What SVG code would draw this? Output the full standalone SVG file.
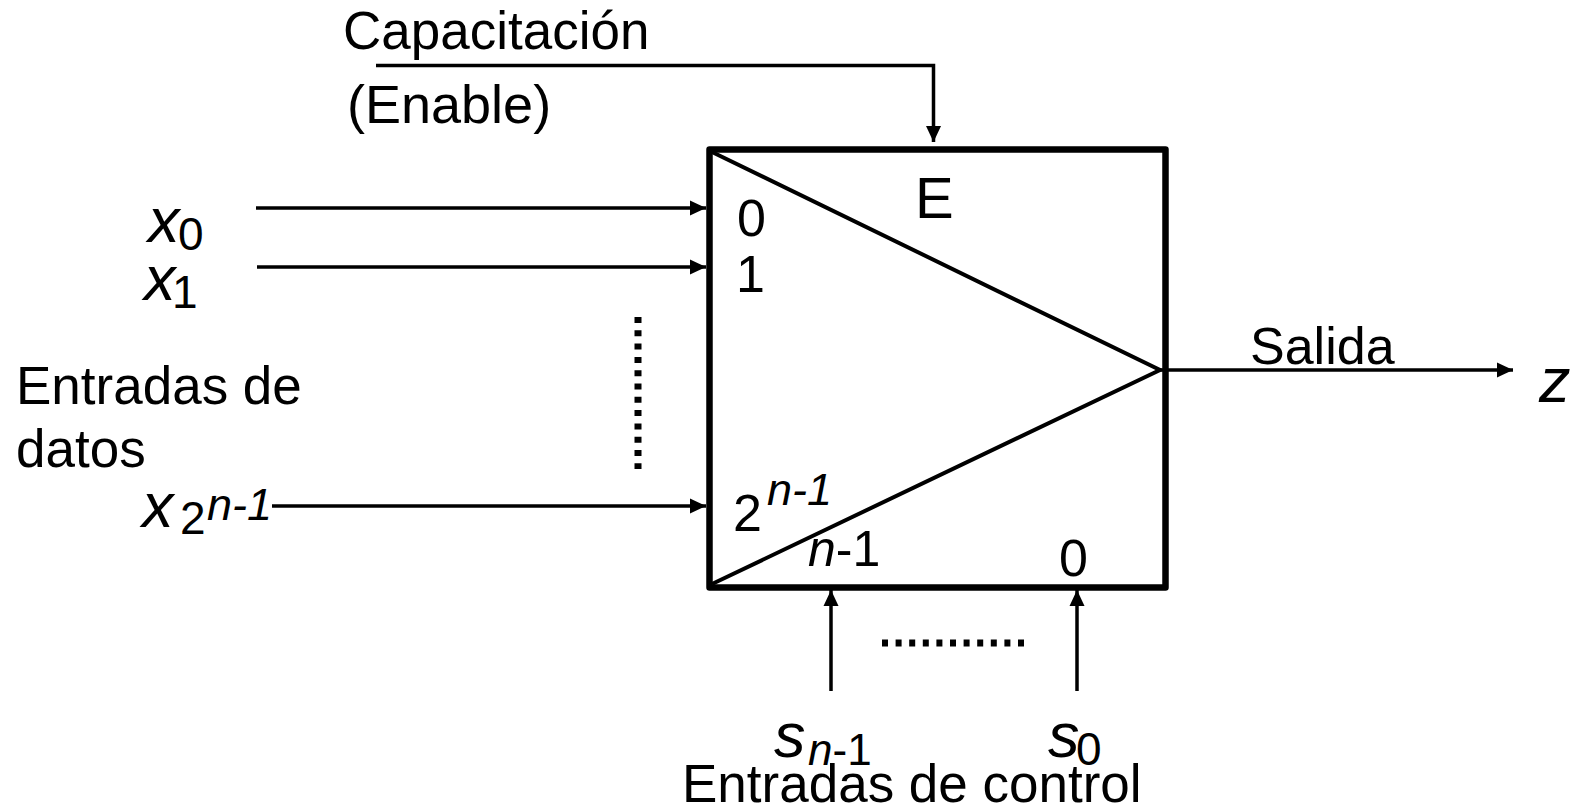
<svg xmlns="http://www.w3.org/2000/svg" width="1572" height="807" viewBox="0 0 1572 807">
<style>
text{font-family:"Liberation Sans",Arial,sans-serif;fill:#000}
.l{font-size:53px}
.v{font-size:63px;font-style:italic}
.s{font-size:46px}
.n{font-size:52px}
.p{font-size:45px;font-style:italic}
.i{font-style:italic}
.c{fill:none;stroke:#000;stroke-width:3.5px}
.a{marker-end:url(#arr)}
.d{fill:none;stroke:#000;stroke-width:7px;stroke-dasharray:6 7.3}
</style>
<defs><marker id="arr" markerUnits="userSpaceOnUse" markerWidth="16" markerHeight="16" refX="16" refY="8" orient="auto"><path d="M0 0.500L16 8L0 15.500Z" fill="#000"/></marker></defs>
<rect width="1572" height="807" fill="#fff"/>
<g id="mux">
<rect x="709.500" y="149.500" width="456" height="438" fill="none" stroke="#000" stroke-width="6.500" stroke-linejoin="round"/>
<path d="M712 152L1160 370L712 584" fill="none" stroke="#000" stroke-width="4"/>
<text x="915" y="217.500" style="font-size:58px">E</text>
<text class="n" x="737" y="236">0</text>
<text class="n" x="736" y="292">1</text>
<text class="n" x="733" y="531">2</text>
<text class="p" x="767" y="505">n-1</text>
<text x="808" y="566" style="font-size:50px"><tspan class="i">n</tspan>-1</text>
<text class="n" x="1059" y="576">0</text>
</g>
<g id="connectors">
<path class="c a" d="M376 65.500H933.500V142"/>
<path class="c a" d="M256 208H706"/>
<path class="c a" d="M257 267H706"/>
<path class="c a" d="M272 506H706"/>
<path class="c a" d="M1160 370H1513"/>
<path class="c a" d="M831 691V590"/>
<path class="c a" d="M1077 691V590"/>
<path class="d" d="M638 317V469"/>
<path class="d" d="M882 643H1024" style="stroke-dasharray:6 7.600"/>
</g>
<g id="labels">
<text class="l" x="343" y="49">Capacitación</text>
<text x="347" y="123" style="font-size:54px">(Enable)</text>
<text class="v" x="148" y="242">x</text><text class="s" x="178" y="250">0</text>
<text class="v" x="144" y="300">x</text><text class="s" x="172" y="308">1</text>
<text class="l" x="16" y="404">Entradas de</text>
<text class="l" x="16" y="467">datos</text>
<text class="v" x="142" y="527">x</text><text class="s" x="180" y="534">2</text>
<text class="p" x="207" y="520">n-1</text>
<text x="1250" y="364" style="font-size:52px">Salida</text>
<text class="v" x="1539" y="402">z</text>
<text class="v" x="774" y="757">s</text><text x="808" y="765" style="font-size:44px"><tspan class="i">n</tspan>-1</text>
<text class="v" x="1048" y="757">s</text><text class="s" x="1076" y="765">0</text>
<text class="l" x="682" y="802">Entradas de control</text>
</g>
</svg>
